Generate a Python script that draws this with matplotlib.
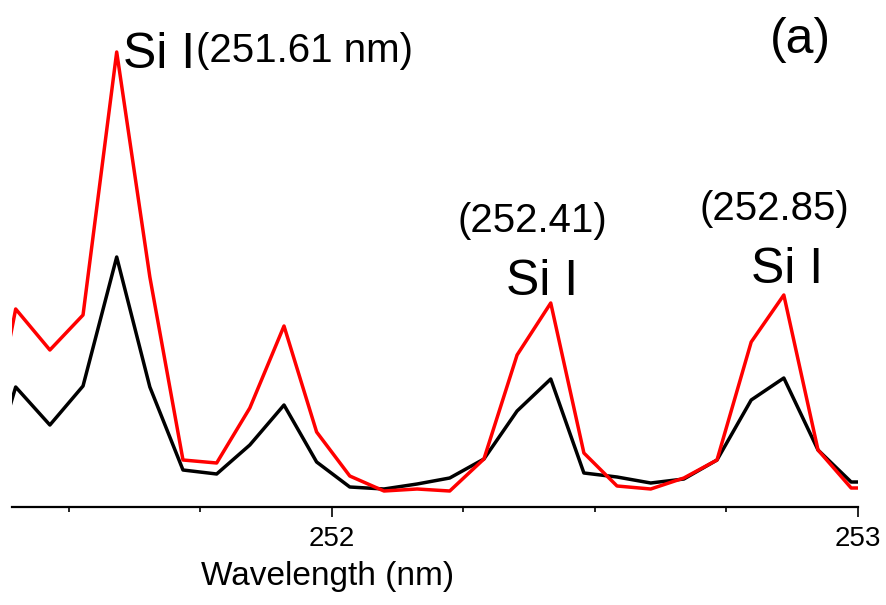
import matplotlib
matplotlib.use("Agg")
import matplotlib.pyplot as plt
from matplotlib.ticker import MultipleLocator

plt.rcParams['font.family'] = ['Liberation Sans', 'DejaVu Sans']

# wavelength grid of the spectrometer (nm)
wavelength = [251.337, 251.399, 251.464, 251.527, 251.591, 251.654, 251.717,
              251.781, 251.844, 251.909, 251.971, 252.034, 252.099, 252.162,
              252.224, 252.289, 252.352, 252.416, 252.479, 252.542, 252.606,
              252.669, 252.732, 252.797, 252.859, 252.924, 252.987, 253.051]

# intensities (a.u.)
red_int = [30, 198, 157, 192, 455, 230, 47, 44, 99, 181, 75, 31, 16, 18,
           16, 48, 152, 204, 54, 21, 18, 29, 47, 165, 212, 57, 19, 19]
black_int = [10, 120, 82, 121, 250, 120, 37, 33, 62, 102, 45, 20, 18, 23,
             29, 48, 96, 128, 34, 30, 24, 28, 47, 107, 129, 57, 25, 25]

fig = plt.figure(figsize=(8.86, 6.05), dpi=100)
ax = fig.add_axes([12 / 886, 98 / 605, 846 / 886, 487 / 605])

ax.plot(wavelength, black_int, color='black', lw=2.5)
ax.plot(wavelength, red_int, color='#ff0000', lw=2.5)

ax.set_xlim(251.392, 253.0)
ax.set_ylim(0, 487)

for s in ['left', 'right', 'top']:
    ax.spines[s].set_visible(False)
ax.spines['bottom'].set_linewidth(1.6)
ax.set_yticks([])
ax.xaxis.set_major_locator(MultipleLocator(1))
ax.xaxis.set_minor_locator(MultipleLocator(0.25))
ax.tick_params(axis='x', which='major', direction='out', length=7.5, width=1.2,
               labelsize=20, pad=6)
ax.tick_params(axis='x', which='minor', direction='out', length=3.8, width=1.2)

fig.text(327.5 / 886, 1 - 585 / 605, 'Wavelength (nm)', fontsize=24,
         ha='center', va='baseline')

# peak labels
ax.text(251.603, 439, 'Si I', fontsize=36, ha='left', va='baseline')
ax.text(251.741, 445, '(251.61 nm)', fontsize=29, ha='left', va='baseline')
ax.text(252.382, 275, '(252.41)', fontsize=29, ha='center', va='baseline')
ax.text(252.399, 212, 'Si I', fontsize=36, ha='center', va='baseline')
ax.text(252.842, 287, '(252.85)', fontsize=29, ha='center', va='baseline')
ax.text(252.865, 224, 'Si I', fontsize=36, ha='center', va='baseline')
ax.text(252.890, 454, '(a)', fontsize=36, ha='center', va='baseline')

fig.savefig('out.png', dpi=100)
